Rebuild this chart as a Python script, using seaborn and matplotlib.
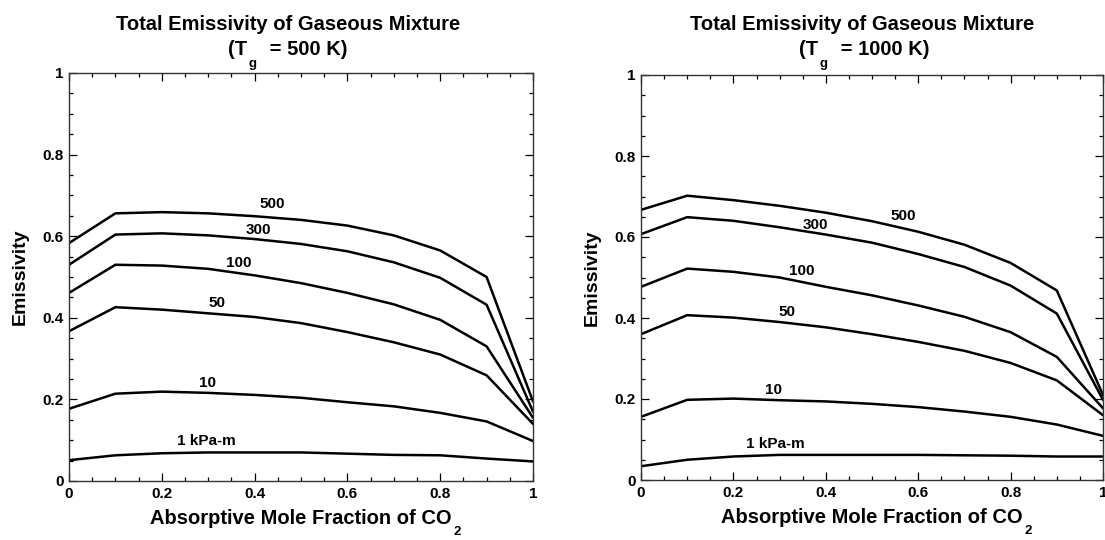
import numpy as np
import pandas as pd
import matplotlib
matplotlib.use("Agg")
import matplotlib.pyplot as plt
import seaborn as sns
from matplotlib.ticker import MultipleLocator, FixedLocator

# ---------------- data ----------------
x_frac = [0.0, 0.1, 0.2, 0.3, 0.4, 0.5, 0.6, 0.7, 0.8, 0.9, 1.0]
pl_labels = ["500", "300", "100", "50", "10", "1 kPa-m"]

# T_g = 500 K
e500_500 = [0.583, 0.656, 0.659, 0.656, 0.649, 0.640, 0.626, 0.602, 0.565, 0.500, 0.195]
e500_300 = [0.530, 0.604, 0.607, 0.602, 0.593, 0.581, 0.563, 0.536, 0.498, 0.432, 0.170]
e500_100 = [0.461, 0.530, 0.528, 0.520, 0.504, 0.485, 0.461, 0.433, 0.395, 0.330, 0.155]
e500_50 = [0.367, 0.426, 0.420, 0.411, 0.402, 0.387, 0.365, 0.340, 0.310, 0.259, 0.140]
e500_10 = [0.177, 0.214, 0.219, 0.216, 0.211, 0.204, 0.193, 0.183, 0.167, 0.146, 0.098]
e500_1 = [0.051, 0.063, 0.068, 0.070, 0.070, 0.070, 0.067, 0.064, 0.063, 0.055, 0.048]

# T_g = 1000 K
e1000_500 = [0.667, 0.702, 0.691, 0.677, 0.660, 0.639, 0.613, 0.581, 0.536, 0.468, 0.210]
e1000_300 = [0.607, 0.649, 0.640, 0.624, 0.606, 0.586, 0.558, 0.526, 0.480, 0.411, 0.198]
e1000_100 = [0.477, 0.522, 0.514, 0.500, 0.477, 0.456, 0.431, 0.403, 0.365, 0.304, 0.177]
e1000_50 = [0.360, 0.407, 0.401, 0.390, 0.377, 0.360, 0.341, 0.319, 0.289, 0.246, 0.160]
e1000_10 = [0.156, 0.198, 0.201, 0.197, 0.194, 0.188, 0.180, 0.169, 0.156, 0.137, 0.109]
e1000_1 = [0.034, 0.050, 0.058, 0.062, 0.062, 0.062, 0.062, 0.061, 0.060, 0.058, 0.058]

# label anchor positions (data coords)
lab500_x = [0.439, 0.409, 0.365, 0.320, 0.299, 0.296]
lab500_y = [0.679, 0.614, 0.534, 0.436, 0.240, 0.098]
lab1000_x = [0.567, 0.378, 0.347, 0.317, 0.286, 0.291]
lab1000_y = [0.653, 0.629, 0.516, 0.415, 0.223, 0.090]

tick_vals = [0, 0.2, 0.4, 0.6, 0.8, 1]
tick_text = ["0", "0.2", "0.4", "0.6", "0.8", "1"]

panels = [
    ("500", [e500_500, e500_300, e500_100, e500_50, e500_10, e500_1], lab500_x, lab500_y),
    ("1000", [e1000_500, e1000_300, e1000_100, e1000_50, e1000_10, e1000_1], lab1000_x, lab1000_y),
]

# ---------------- style ----------------
sns.set_style("ticks")
plt.rcParams["font.family"] = ["Liberation Sans", "DejaVu Sans"]
plt.rcParams["font.weight"] = "bold"
plt.rcParams["text.color"] = "black"
plt.rcParams["axes.labelcolor"] = "black"
plt.rcParams["xtick.color"] = "black"
plt.rcParams["ytick.color"] = "black"

fig = plt.figure(figsize=(11.05, 5.40), dpi=100)
ax_rects = [
    [69 / 1105, 59 / 540, 464 / 1105, 408 / 540],
    [641 / 1105, 60 / 540, 462 / 1105, 405 / 540],
]
title_cx = [288 / 1105, 862 / 1105]
sub_left = [228 / 1105, 799 / 1105]

TFS = 14.5
for (tg, series, lx, ly), rect, tcx, slx in zip(panels, ax_rects, title_cx, sub_left):
    ax = fig.add_axes(rect)
    rows = []
    for lab, vals in zip(pl_labels, series):
        for xv, yv in zip(x_frac, vals):
            rows.append({"x": xv, "e": yv, "pl": lab})
    df = pd.DataFrame(rows)
    sns.lineplot(data=df, x="x", y="e", units="pl", estimator=None,
                 color="black", linewidth=1.8, ax=ax, legend=False)
    for lab, tx, ty in zip(pl_labels, lx, ly):
        ax.text(tx, ty, lab, ha="center", va="center", fontsize=11,
                fontweight="bold", color="black")
    ax.set_xlim(0, 1)
    ax.set_ylim(0, 1)
    ax.xaxis.set_major_locator(FixedLocator(tick_vals))
    ax.yaxis.set_major_locator(FixedLocator(tick_vals))
    ax.set_xticklabels(tick_text)
    ax.set_yticklabels(tick_text)
    ax.xaxis.set_minor_locator(MultipleLocator(0.05))
    ax.yaxis.set_minor_locator(MultipleLocator(0.05))
    ax.tick_params(which="both", direction="in", top=True, right=True,
                   labelsize=11, width=0.9, colors="black", pad=4)
    ax.tick_params(which="major", length=6)
    ax.tick_params(which="minor", length=3)
    for lbl in ax.get_xticklabels() + ax.get_yticklabels():
        lbl.set_fontweight("bold")
    for s in ax.spines.values():
        s.set_linewidth(1.0)
        s.set_color("#333333")
    ax.set_xlabel("Absorptive Mole Fraction of CO", fontsize=TFS,
                  fontweight="bold", labelpad=6)
    ax.annotate("2", xy=(1, 0), xycoords=ax.xaxis.label, xytext=(1, 1.5),
                textcoords="offset points", ha="left", va="top",
                fontsize=9.5, fontweight="bold", annotation_clip=False)
    ax.set_ylabel("Emissivity", fontsize=14, fontweight="bold", labelpad=10)

    fig.text(tcx, 1 - 25 / 540, "Total Emissivity of Gaseous Mixture",
             ha="center", va="center", fontsize=TFS, fontweight="bold")
    t1 = fig.text(slx, 1 - 55 / 540, "(T", ha="left", va="baseline",
                  fontsize=TFS, fontweight="bold")
    ax.annotate("g", xy=(1, 0), xycoords=t1, xytext=(1, -6),
                textcoords="offset points", ha="left", va="baseline",
                fontsize=9.5, fontweight="bold", annotation_clip=False)
    ax.annotate(" = " + tg + " K)", xy=(1, 0), xycoords=t1, xytext=(12, 0),
                textcoords="offset points", ha="left", va="bottom",
                fontsize=TFS, fontweight="bold", annotation_clip=False)

fig.savefig("out.png", dpi=100, facecolor="white")
